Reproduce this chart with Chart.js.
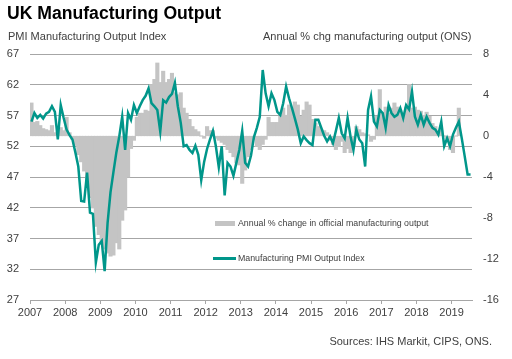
<!DOCTYPE html>
<html lang="en">
<head>
    <meta charset="UTF-8">
    <title>UK Manufacturing Output</title>
    <script src="https://cdn.jsdelivr.net/npm/chart.js"></script>
    <style>
        body { margin: 0; background: #fff; font-family: Arial, "Liberation Sans", sans-serif; }
        #wrap { position: relative; width: 512px; height: 359px; overflow: hidden; }
        #wrap canvas { position: absolute; left: 0; top: 0; }
        .txt { position: absolute; white-space: nowrap; color: #404040; }
        .title { left: 7px; top: 4px; font-size: 17.6px; line-height: 18px; font-weight: bold; color: #000; }
        .sub { top: 31px; font-size: 11px; line-height: 11px; }
        .leg { left: 238px; font-size: 8.8px; line-height: 9px; }
        .sw { position: absolute; }
    </style>
</head>
<body>
<div id="wrap">
    <canvas id="mfgChart" width="512" height="359"></canvas>
    <div class="txt title">UK Manufacturing Output</div>
    <div class="txt sub" style="left:8px">PMI Manufacturing Output Index</div>
    <div class="txt sub" style="left:263px">Annual % chg manufacturing output (ONS)</div>
    <div class="sw" style="left:215px;top:221px;width:20px;height:5px;background:#c4c4c4"></div>
    <div class="txt leg" style="top:219px">Annual % change in official manufacturing output</div>
    <div class="sw" style="left:213px;top:257px;width:23px;height:2.5px;background:#00968a"></div>
    <div class="txt leg" style="top:254px">Manufacturing PMI Output Index</div>
    <div class="txt sub" style="right:20px;top:336px">Sources: IHS Markit, CIPS, ONS.</div>
</div>

<script>
    // monthly data, Jan 2007 onwards
    const startYear = 2007;

    // PMI output index, Jan 2007 - Jul 2019
    const pmiOutput = [
        56.0, 57.4, 56.6, 57.1, 56.5, 57.3, 57.6, 58.5, 57.6, 53.1, 58.7, 56.6,
        54.7, 53.8, 53.1, 51.0, 48.7, 43.1, 43.0, 47.7, 41.2, 41.0, 33.1, 36.0,
        36.6, 31.7, 39.5, 44.5, 47.8, 51.0, 53.6, 56.8, 51.4, 57.4, 56.3, 58.7,
        57.4, 58.5, 59.5, 60.2, 61.4, 59.0, 58.5, 57.9, 54.4, 59.5, 59.1, 60.0,
        60.5, 62.3, 58.5, 55.8, 52.0, 52.2, 51.4, 50.9, 52.1, 50.6, 46.5, 49.5,
        51.6, 53.1, 54.5, 52.0, 48.6, 52.0, 44.0, 49.3, 48.7, 47.2, 49.3, 51.4,
        54.5, 49.3, 48.7, 50.5, 53.5, 55.0, 56.8, 64.4, 60.6, 58.5, 60.6, 59.5,
        57.6, 57.1, 59.0, 61.7, 59.8, 58.2, 56.5, 54.7, 52.5, 53.6, 53.0, 52.5,
        52.2, 56.3, 56.3, 55.0, 53.7, 52.8, 53.6, 52.5, 54.5, 56.6, 54.1, 53.3,
        56.6, 53.6, 51.4, 54.7, 53.1, 52.5, 48.7, 57.9, 60.1, 56.0, 55.2, 57.9,
        57.4, 55.0, 58.7, 57.4, 56.8, 57.1, 58.2, 56.6, 58.7, 58.0, 60.9, 56.8,
        55.5, 57.1, 55.5, 56.8, 55.8, 55.0, 54.7, 53.9, 56.0, 52.0, 53.3, 52.0,
        53.9, 55.0, 56.0, 53.3, 50.4, 47.4, 47.4
    ];

    // ONS manufacturing output, annual % change, Jan 2007 - Mar 2019
    const onsAnnualChg = [
        3.2, 1.3, 1.4, 1.0, 0.7, 0.6, 0.5, 1.0, 0.3, 0.4, 0.8, 0.5,
        1.8, 0.3, -0.3, -0.9, -1.8, -2.5, -3.4, -4.2, -6.0, -7.0, -8.8, -9.6,
        -10.5, -11.0, -11.4, -11.7, -11.6, -10.4, -11.0, -8.2, -7.2, -4.0, -1.2, -0.4,
        1.8, 2.2, 2.2, 2.5, 2.4, 5.0, 5.5, 7.1, 5.2, 6.3, 5.2, 5.5,
        6.1, 4.2, 4.0, 4.2, 2.7, 2.2, 1.6, 0.9, 0.6, 0.4, 0.0, -0.2,
        0.9, 0.5, 0.5, -0.2, -0.4, -0.6, -0.8, -1.3, -1.6, -2.0, -2.6, -2.8,
        -4.6, -3.3, -2.0, -1.3, -0.3, -1.0, -1.3, -0.8, -0.3, 1.8, 1.3, 1.3,
        1.3, 1.9, 2.7, 2.0, 3.0, 2.6, 3.3, 3.0, 1.9, 2.5, 3.3, 3.0,
        1.6, 1.2, 0.9, 0.6, 0.5, 0.3, -0.4, -0.8, -1.3, -1.0, -0.5, -1.6,
        -1.2, -1.6, -1.0, 0.9, 0.6, 0.3, 0.2, 0.1, -0.5, -0.3, 1.9, 4.5,
        2.2, 2.8, 2.2, 2.7, 3.2, 2.8, 2.5, 2.2, 2.8, 5.0, 2.7, 2.8,
        2.5, 2.4, 2.0, 2.3, 1.9, 1.2, 0.9, 0.5, 0.5, 0.0, -0.2, -1.3,
        -1.6, 0.0, 2.7
    ];

    // month i sits in the middle of its slot
    const monthX = i => startYear + (i + 0.5) / 12;
    const endX = startYear + pmiOutput.length / 12;

    const tickColor = '#404040';
    const gridColor = '#a6a6a6';
    const tickFont = { family: 'Arial, "Liberation Sans", sans-serif', size: 11 };

    const ctx = document.getElementById('mfgChart').getContext('2d');
    new Chart(ctx, {
        data: {
            datasets: [
                {
                    type: 'line',
                    label: 'Manufacturing PMI Output Index',
                    data: pmiOutput.map((v, i) => ({ x: monthX(i), y: v })),
                    yAxisID: 'y',
                    borderColor: '#00968a',
                    borderWidth: 2.5,
                    pointRadius: 0,
                    tension: 0,
                    order: 0
                },
                {
                    type: 'bar',
                    label: 'Annual % change in official manufacturing output',
                    data: onsAnnualChg.map((v, i) => ({ x: monthX(i), y: v })),
                    yAxisID: 'y2',
                    backgroundColor: '#c4c4c4',
                    borderWidth: 0,
                    inflateAmount: 0.6,
                    barPercentage: 1,
                    categoryPercentage: 1,
                    order: 1
                }
            ]
        },
        options: {
            responsive: false,
            animation: false,
            layout: { padding: { top: 54, bottom: 0, left: 0, right: 0 } },
            plugins: {
                legend: { display: false },
                tooltip: { enabled: false }
            },
            scales: {
                x: {
                    type: 'linear',
                    min: startYear,
                    max: endX,
                    offset: false,
                    afterFit: s => { s.height = 59; s.paddingLeft = 0; s.paddingRight = 0; },
                    grid: { offset: false, drawOnChartArea: false, drawTicks: true, tickLength: 4, color: gridColor },
                    border: { color: gridColor },
                    ticks: {
                        stepSize: 1,
                        includeBounds: false,
                        maxRotation: 0,
                        autoSkip: false,
                        padding: 2,
                        color: tickColor,
                        font: tickFont,
                        callback: v => String(Math.round(v))
                    }
                },
                y: {
                    position: 'left',
                    min: 27,
                    max: 67,
                    afterFit: s => { s.width = 30; },
                    grid: { color: gridColor, drawTicks: false },
                    border: { display: false },
                    ticks: { stepSize: 5, padding: 11, color: tickColor, font: tickFont }
                },
                y2: {
                    position: 'right',
                    min: -16,
                    max: 8,
                    afterFit: s => { s.width = 40; },
                    grid: { drawOnChartArea: false, drawTicks: false },
                    border: { display: false },
                    ticks: { stepSize: 4, padding: 11, color: tickColor, font: tickFont }
                }
            }
        }
    });
</script>
</body>
</html>
